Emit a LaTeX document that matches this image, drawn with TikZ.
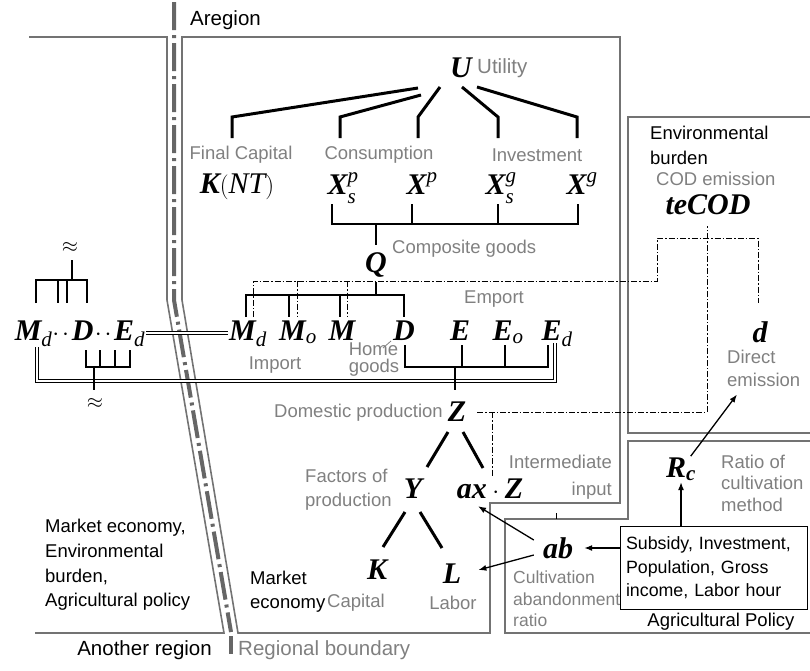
\documentclass[tikz,border=0pt]{standalone}
\usepackage{amsmath}
\usepackage{fontspec}
\setmainfont{Liberation Sans}
\newfontfamily\tms{Liberation Serif}
\usetikzlibrary{arrows.meta, positioning, calc}

\newcommand{\vb}[1]{\text{\tms\bfseries\itshape #1}}
\newcommand{\vi}[1]{\text{\tms\itshape #1}}
\newcommand{\vlow}[1]{\text{\raisebox{-3pt}{\tms\itshape #1}}}

\begin{document}
\begin{tikzpicture}[x=1pt, y=1pt,
    var/.style={font=\fontsize{30}{32}\selectfont, inner sep=1pt},
    lbl/.style={font=\fontsize{18.5}{24}\selectfont, text=black!50, inner sep=0pt, align=left},
    txt/.style={font=\fontsize{18.5}{24}\selectfont, inner sep=0pt, align=left},
    big/.style={font=\fontsize{20.5}{24}\selectfont, inner sep=0pt},
    tree/.style={line width=3pt},
    brk/.style={line width=1.6pt},
    dd/.style={line width=1pt, dash pattern=on 6pt off 2pt on 1.5pt off 2pt},
    dbl/.style={double, double distance=2pt, line width=1.2pt},
    region/.style={draw=black!55, line width=1.6pt},
    bnd/.style={black!60, line width=4pt, dash pattern=on 28pt off 5pt on 3pt off 5pt},
    arr/.style={-{Latex[length=8pt,width=6pt]}, line width=1.3pt}]
    \useasboundingbox (0,0) rectangle (810,-670);

    % regions and boundary
    \draw[region] (182,-37) -- (620,-37) -- (620,-503) -- (490,-503) -- (490,-633) -- (238,-633) -- (182,-300) -- cycle;
    \draw[region] (29,-37) -- (167,-37) -- (167,-300) -- (224,-633) -- (35,-633);
    \draw[region] (810,-117) -- (628,-117) -- (628,-433) -- (810,-433);
    \draw[region] (810,-441) -- (628,-441) -- (628,-519) -- (505,-519) -- (505,-633) -- (810,-633);
    \draw[bnd] (174,-2) -- (174,-300) -- (231,-632);
    \draw[black!60, line width=4pt] (231,-636) -- (231,-654);
    \draw[line width=1pt] (556,-513) -- (556,-519);

    \node[big, anchor=west] (areg) at (190,-20) {Aregion};
    \node[big, anchor=east] (oreg) at (212,-650) {Another region};
    \node[big, anchor=west, text=black!50] (rbnd) at (238,-650) {Regional boundary};
    \node[txt, anchor=west, font=\fontsize{18.5}{24.7}\selectfont] (mkt) at (45,-565) {Market economy,\\Environmental\\burden,\\Agricultural policy};

    % utility tree
    \node[var] (U) at (461,-68) {$\vb{U}$};
    \node[big, anchor=west, text=black!50] (utl) at (477,-68) {Utility};
    \node[lbl] (fcap) at (241,-155) {Final Capital};
    \node[lbl] (cons) at (379,-155) {Consumption};
    \node[lbl] (inv) at (537,-155) {Investment};
    \node[var, anchor=base, inner sep=0pt] (KNT) at (237,-193) {$\vb{K}(\vi{NT})$};
    \node[var, anchor=base, inner sep=0pt] (Xsp) at (343,-194) {$\vb{X}^{\vi{p}}_{\vlow{s}}$};
    \node[var, anchor=base, inner sep=0pt] (Xp) at (422,-194) {$\vb{X}^{\vi{p}}$};
    \node[var, anchor=base, inner sep=0pt] (Xsg) at (501,-194) {$\vb{X}^{\vi{g}}_{\vlow{s}}$};
    \node[var, anchor=base, inner sep=0pt] (Xg) at (582,-194) {$\vb{X}^{\vi{g}}$};

    \draw[tree] ($(U)+(-43,-20)$) -- (232,-117) -- (232,-138);
    \draw[tree] ($(U)+(-40,-27)$) -- (340,-117) -- (340,-138);
    \draw[tree] ($(U)+(-21,-19)$) -- (418,-117) -- (418,-138);
    \draw[tree] ($(U)+(1,-19)$) -- (498,-117) -- (498,-138);
    \draw[tree] ($(U)+(16,-19)$) -- (577,-117) -- (577,-138);

    \node[var] (Q) at (376,-265) {$\vb{Q}$};
    \node[lbl, anchor=west] (comp) at (392,-249) {Composite goods};
    \draw[brk] (332,-204) -- (332,-224) -- (578,-224) -- (578,-204);
    \draw[brk] (412,-204) -- (412,-224) (498,-204) -- (498,-224);
    \draw[brk] (376,-224) -- (376,-245);

    % goods row
    \node[var, anchor=base] (Md) at (248,-340) {$\vb{M}_{\vi{d}}$};
    \node[var, anchor=base] (Mo) at (298,-340) {$\vb{M}_{\vi{o}}$};
    \node[var, anchor=base] (M) at (342,-340) {$\vb{M}$};
    \node[var, anchor=base] (D) at (404,-340) {$\vb{D}$};
    \node[var, anchor=base] (E) at (460,-340) {$\vb{E}$};
    \node[var, anchor=base] (Eo) at (508,-340) {$\vb{E}_{\vi{o}}$};
    \node[var, anchor=base] (Ed) at (557,-340) {$\vb{E}_{\vi{d}}$};
    \node[var, anchor=base] (grp) at (80,-340) {$\vb{M}_{\vi{d}}{\cdot}\mkern2mu{\cdot}\mkern2mu\vb{D}\mkern1mu{\cdot}\mkern2mu{\cdot}\mkern2mu\vb{E}_{\vi{d}}$};
    \node[lbl] (emp) at (494,-299) {Emport};
    \node[lbl] (imp) at (275,-365) {Import};
    \node[lbl, font=\fontsize{18.5}{17}\selectfont] (home) at (374,-360) {Home\\goods};
    \draw[black!50, line width=0.8pt] (383,-348) -- (391,-341);

    \draw[brk] (376,-282) -- (376,-295);
    \draw[brk] (246,-317) -- (246,-295) -- (404,-295) -- (404,-317);
    \draw[brk] (289,-295) -- (289,-317) (340,-295) -- (340,-317);
    \draw[dd] (253,-317) -- (253,-281) -- (657,-281) -- (657,-238) -- (758,-238) -- (758,-303);
    \draw[dd] (297,-281) -- (297,-317) (347,-281) -- (347,-317);

    \draw[brk] (405,-345) -- (405,-367) -- (548,-367) -- (548,-345);
    \draw[brk] (462,-345) -- (462,-367) (505,-345) -- (505,-367);
    \draw[dbl] (37,-347) -- (37,-381) -- (555,-381) -- (555,-343);
    \draw[dbl] (grp.east) -- (Md.west);

    % approx brackets
    \draw[brk] (36,-303) -- (36,-280) -- (87,-280) -- (87,-303);
    \draw[brk] (58,-280) -- (58,-303) (67,-280) -- (67,-303);
    \draw[brk] (72,-280) -- (72,-260);
    \node[font=\fontsize{22}{24}\selectfont] (apx1) at (70,-247) {$\approx$};
    \draw[brk] (86,-350) -- (86,-367) -- (130,-367) -- (130,-350);
    \draw[brk] (100,-350) -- (100,-367) (115,-350) -- (115,-367);
    \draw[brk] (94,-367) -- (94,-390);
    \node[font=\fontsize{22}{24}\selectfont] (apx2) at (95,-403) {$\approx$};

    % production
    \node[var] (Z) at (457,-412) {$\vb{Z}$};
    \node[lbl, anchor=east] (dom) at (443,-413) {Domestic production};
    \draw[brk] (455,-367) -- (455,-390);
    \node[var] (Y) at (413,-489) {$\vb{Y}$};
    \node[var] (axZ) at (490,-489) {$\vb{ax}\cdot\vb{Z}$};
    \draw[tree] (448,-432) -- (427,-467) (463,-432) -- (483,-468);
    \node[var] (K) at (377,-570) {$\vb{K}$};
    \node[var] (L) at (452,-574) {$\vb{L}$};
    \draw[tree] (405,-512) -- (383,-547) (420,-512) -- (442,-548);
    \node[lbl, anchor=west] (fac) at (305,-490) {Factors of\\production};
    \node[lbl] (capl) at (356,-603) {Capital};
    \node[lbl] (labl) at (453,-603) {Labor};
    \node[txt, anchor=west] (mkt2) at (250,-592) {Market\\economy};
    \node[lbl, anchor=east, align=right, font=\fontsize{18.5}{27}\selectfont] (intm) at (612,-477) {Intermediate\\input};

    \draw[dd] ([xshift=10pt]Z.east) -- (707,-412) -- (707,-226);
    \draw[dd] (492,-412) -- (492,-477);

    % environmental burden
    \node[txt, anchor=west, font=\fontsize{18.5}{25}\selectfont] (env) at (650,-145) {Environmental\\burden};
    \node[lbl, anchor=west] (cod) at (656,-179) {COD emission};
    \node[var] (teCOD) at (708,-205) {$\vb{teCOD}$};
    \node[var] (d) at (760,-332) {$\vb{d}$};
    \node[lbl, anchor=west, font=\fontsize{18.5}{23}\selectfont] (dem) at (727,-368) {Direct\\emission};

    % agricultural policy
    \node[var, anchor=base] (Rc) at (681,-477) {$\vb{R}_{\vb{c}}$};
    \node[lbl, anchor=west, font=\fontsize{18.5}{21.5}\selectfont] (ratio) at (721,-483) {Ratio of\\cultivation\\method};
    \node[var] (ab) at (558,-548) {$\vb{ab}$};
    \node[lbl, anchor=west, font=\fontsize{17.5}{21.5}\selectfont] (cab) at (513,-599) {Cultivation\\abandonment\\ratio};
    \node[draw, line width=1.3pt, font=\fontsize{17.8}{23.5}\selectfont, align=left,
          text width=176pt, inner xsep=5.5pt, minimum height=83pt] (box) at (714,-568)
          {Subsidy, Investment,\\Population, Gross\\income, Labor hour};
    \node[txt] (agp) at (721,-622) {Agricultural Policy};

    \draw[arr] (box.north -| Rc) -- (Rc);
    \draw[arr] (Rc) -- ($(dem.south west)+(10,-8)$);
    \draw[arr] (box.west |- ab) -- ([xshift=10pt]ab.east);
    \draw[arr] ([xshift=-8pt,yshift=8pt]ab.west) -- ([xshift=-12pt,yshift=-6pt]axZ.south);
    \draw[arr] ([xshift=-8pt,yshift=-7pt]ab.west) -- ([xshift=16pt,yshift=4pt]L.east);
\end{tikzpicture}
\end{document}
